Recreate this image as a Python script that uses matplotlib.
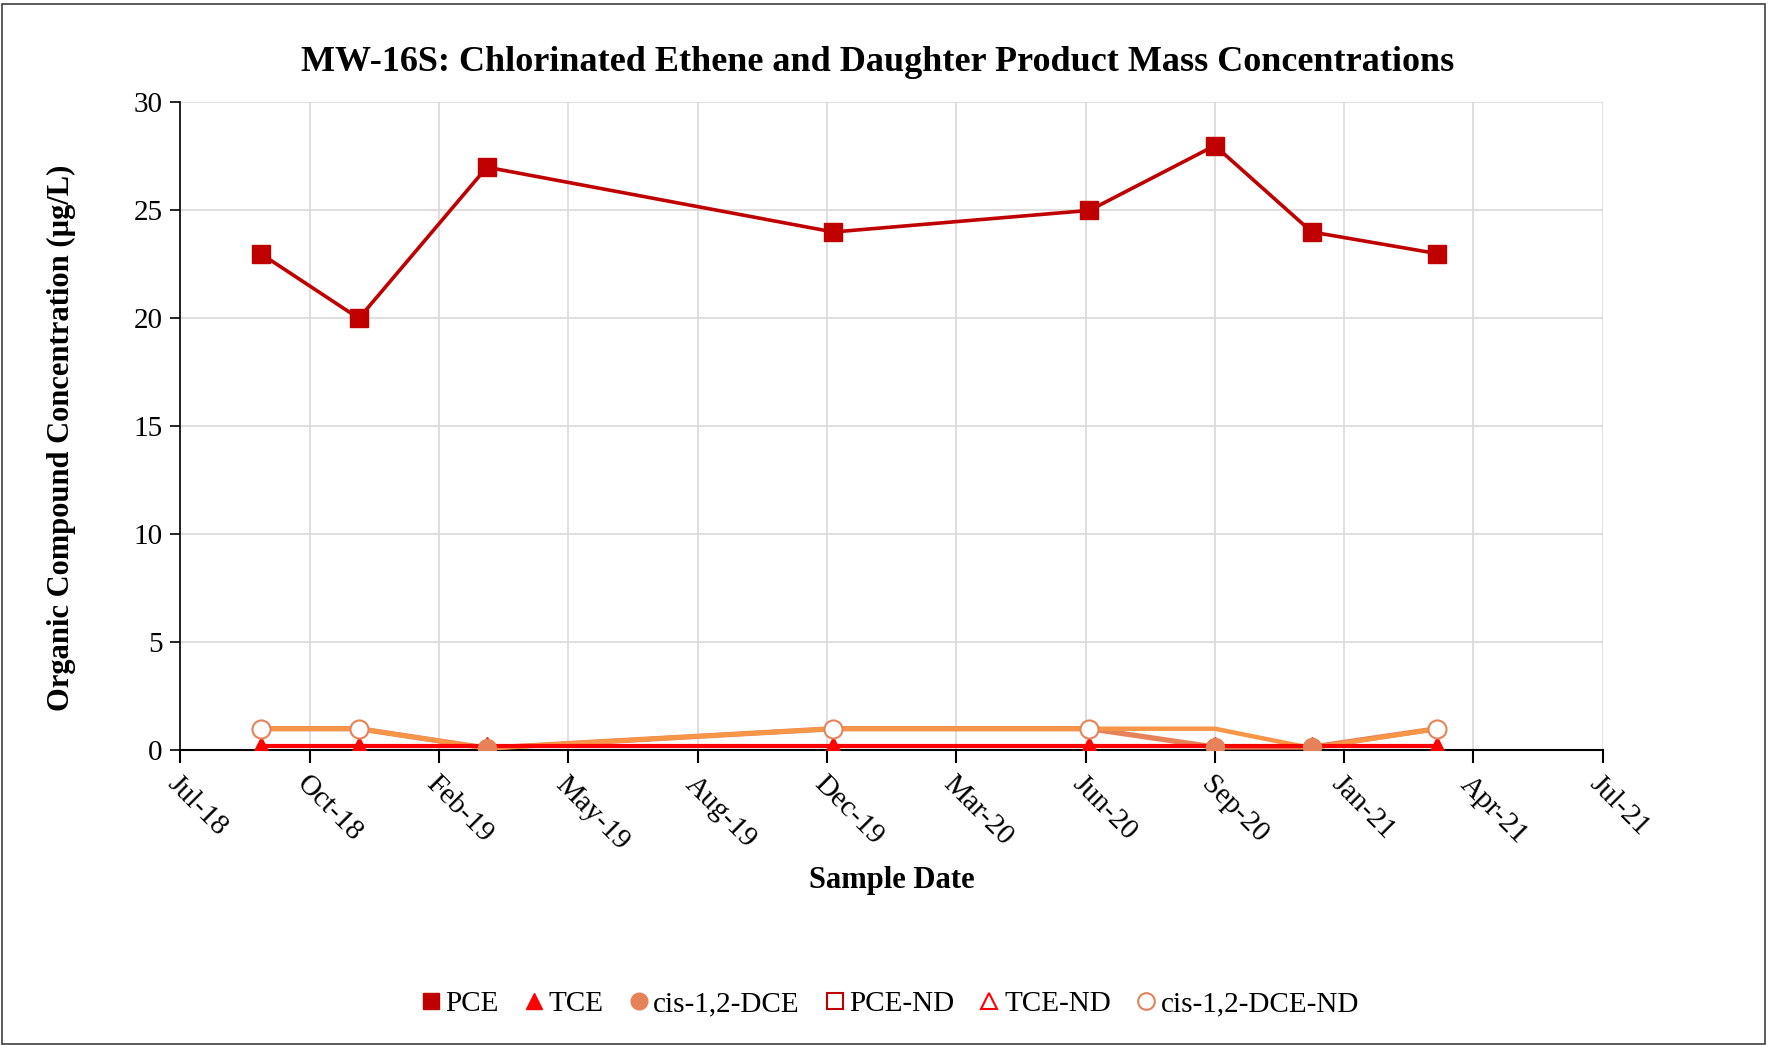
import datetime as dt
import matplotlib
matplotlib.use("Agg")
import matplotlib.pyplot as plt
import matplotlib.dates as mdates
from matplotlib.lines import Line2D
from matplotlib.patches import Rectangle
import numpy as np

# sample dates and concentrations (ug/L)
dates = ["2018-09-19", "2018-12-04", "2019-03-13", "2019-12-06",
         "2020-06-21", "2020-09-26", "2020-12-10", "2021-03-17"]
pce = [23, 20, 27, 24, 25, 28, 24, 23]
tce = [0.2, 0.2, 0.2, 0.2, 0.2, 0.2, 0.2, 0.2]
dce = [1, 1, 0.1, 1, 1, 0.15, 0.15, 1]
dce_rl = [1, 1, 0.1, 1, 1, 1, 0.1, 1]
dce_detect = [False, False, True, False, False, True, True, False]

y_ticks = [0, 5, 10, 15, 20, 25, 30]
tick_start = "2018-07-19"
tick_step_days = 100
n_ticks = 12

C_PCE = "#C00000"
C_TCE = "#FF0000"
C_DCE = "#E5825A"
C_ORG = "#F79646"

plt.rcParams['font.family'] = ['Liberation Serif', 'DejaVu Serif']

x = [dt.datetime.strptime(d, "%Y-%m-%d") for d in dates]
dce = np.array(dce, dtype=float)
det = np.array(dce_detect)

fig = plt.figure(figsize=(17.69, 10.45), dpi=100)
ax = fig.add_axes([0.102, 0.282, 0.804, 0.620])

# lines
ax.plot(x, dce, color=C_DCE, lw=3.8, zorder=3)
ax.plot(x, dce_rl, color=C_ORG, lw=3.2, zorder=4)
ax.plot(x, tce, color=C_TCE, lw=3.0, marker='^', ms=13, zorder=5)
ax.plot(x, pce, color=C_PCE, lw=2.6, marker='s', ms=12.5, zorder=6)

# cis-DCE markers: detects filled, non-detects open
xd = [xi for xi, d in zip(x, det) if d]
xn = [xi for xi, d in zip(x, det) if not d]
ax.plot(xd, dce[det], ls='none', marker='o', ms=13, color=C_DCE, zorder=7)
ax.plot(xn, dce[~det], ls='none', marker='o', ms=13, mfc='white',
        mec=C_DCE, mew=1.5, zorder=7)

# axes
t0 = dt.datetime.strptime(tick_start, "%Y-%m-%d")
ticks = [t0 + dt.timedelta(days=tick_step_days * k) for k in range(n_ticks)]
ax.set_xlim(ticks[0], ticks[-1])
ax.set_xticks(ticks)
ax.xaxis.set_major_formatter(mdates.DateFormatter('%b-%y'))
ax.set_ylim(0, 30)
ax.set_yticks(y_ticks)

ax.grid(True, color='#D9D9D9', lw=1.2)
ax.set_axisbelow(True)
for s in ['top', 'right']:
    ax.spines[s].set_visible(False)
ax.spines['left'].set_color('black')
ax.spines['bottom'].set_color('black')
ax.spines['bottom'].set_linewidth(1.5)
ax.spines['left'].set_linewidth(1.2)

ax.tick_params(axis='x', direction='out', length=9, width=1.5, labelsize=21, pad=6)
ax.tick_params(axis='y', direction='out', length=7, width=1.2, labelsize=21, pad=6)
for lab in ax.get_xticklabels():
    lab.set_rotation(-45)
    lab.set_ha('left')
    lab.set_va('top')
    lab.set_rotation_mode('anchor')

fig.text(0.496, 0.940, "MW-16S: Chlorinated Ethene and Daughter Product Mass Concentrations",
         ha='center', va='center', fontsize=26, fontweight='bold')
fig.text(0.035, 0.581, "Organic Compound Concentration (\u00b5g/L)", rotation=90,
         ha='center', va='center', fontsize=22, fontweight='bold')
fig.text(0.504, 0.157, "Sample Date", ha='center', va='center',
         fontsize=22, fontweight='bold')

# legend
handles = [
    Line2D([], [], ls='none', marker='s', ms=12, color=C_PCE),
    Line2D([], [], ls='none', marker='^', ms=12, color=C_TCE),
    Line2D([], [], ls='none', marker='o', ms=12, color=C_DCE),
    Line2D([], [], ls='none', marker='s', ms=12, mfc='white', mec=C_PCE, mew=1.5),
    Line2D([], [], ls='none', marker='^', ms=12, mfc='white', mec=C_TCE, mew=1.5),
    Line2D([], [], ls='none', marker='o', ms=12, mfc='white', mec=C_DCE, mew=1.5),
]
labels = ["PCE", "TCE", "cis-1,2-DCE", "PCE-ND", "TCE-ND", "cis-1,2-DCE-ND"]
fig.legend(handles, labels, loc='center', bbox_to_anchor=(0.503, 0.039), ncol=6,
           frameon=False, fontsize=21, handlelength=0.7, handletextpad=0.15,
           columnspacing=0.85)

fig.patches.append(Rectangle((0.001, 0.001), 0.997, 0.995, transform=fig.transFigure,
                             fill=False, edgecolor='#404040', lw=1.2))

fig.savefig("out.png", dpi=100)
